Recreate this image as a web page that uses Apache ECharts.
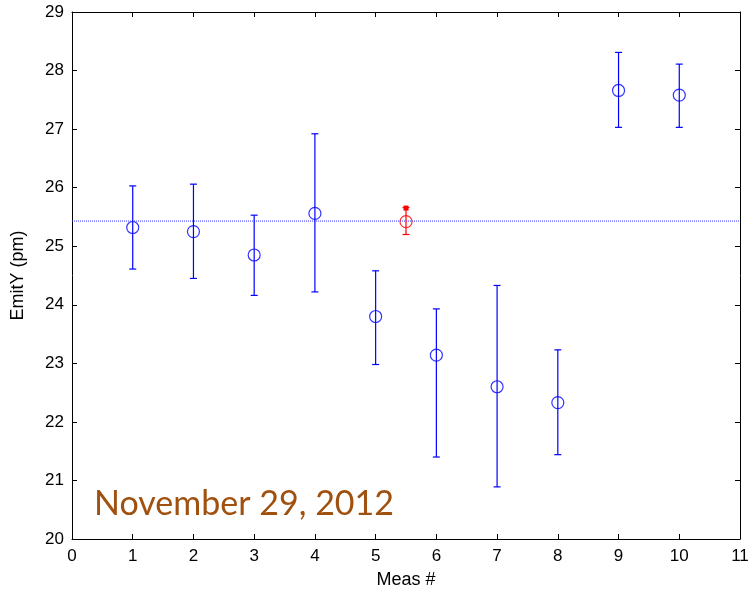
<!DOCTYPE html>
<html><head><meta charset="utf-8">
<script src="https://cdn.jsdelivr.net/npm/echarts@6/dist/echarts.min.js"></script>
<style>html,body{margin:0;padding:0;background:#fff}#c{width:752px;height:594px}</style>
</head><body><div id="c"></div>
<script>
const measX = [1, 2, 3, 4, 5, 6, 7, 8, 9, 10];
const emitY = [25.32, 25.25, 24.85, 25.56, 23.80, 23.14, 22.60, 22.33, 27.66, 27.58];
const errUpper = [26.03, 26.06, 25.53, 26.92, 24.58, 23.93, 24.33, 23.23, 28.31, 28.11];
const errLower = [24.61, 24.45, 24.16, 24.22, 22.98, 21.40, 20.89, 21.44, 27.03, 27.03];
const avgX = [5.5];
const avgY = [25.42];
const avgUpper = [25.66];
const avgLower = [25.20];
const refLineY = 25.43;
const xTicks = [0,1,2,3,4,5,6,7,8,9,10,11];
const yTicks = [20,21,22,23,24,25,26,27,28,29];
const dateLabel = 'November 29, 2012';

const chart = echarts.init(document.getElementById('c'), null, {renderer: 'canvas'});
const BLUE = '#0000ff', RED = '#ff0000';
const lblFont = {color: '#000', fontFamily: 'Liberation Sans, Arial', fontSize: 17};

function errBarSeries(xs, lo, hi, color, topSquare) {
  return {
    type: 'custom', xAxisIndex: 0, yAxisIndex: 0, z: 3,
    data: xs.map((x, i) => [x, lo[i], hi[i]]),
    renderItem: function (params, api) {
      const x = api.value(0);
      const p1 = api.coord([x, api.value(1)]);
      const p2 = api.coord([x, api.value(2)]);
      const w = 3.5;
      const st = {stroke: color, lineWidth: 1.2, fill: null};
      const children = [
        {type: 'line', shape: {x1: p1[0], y1: p1[1], x2: p2[0], y2: p2[1]}, style: st},
        {type: 'line', shape: {x1: p1[0] - w, y1: p1[1], x2: p1[0] + w, y2: p1[1]}, style: st},
        {type: 'line', shape: {x1: p2[0] - w, y1: p2[1], x2: p2[0] + w, y2: p2[1]}, style: st}
      ];
      if (topSquare) {
        children.push({type: 'rect', shape: {x: p2[0] - 2.5, y: p2[1] - 2, width: 5, height: 5}, style: {fill: color}});
      }
      return {type: 'group', children: children};
    }
  };
}

const option = {
  animation: false,
  backgroundColor: '#fff',
  grid: {left: 72, right: 12, top: 12, bottom: 54, show: false},
  xAxis: [{
    type: 'value', min: 0, max: 11, interval: 1, position: 'bottom',
    name: 'Meas #', nameLocation: 'middle', nameGap: 32,
    nameTextStyle: {color: '#000', fontFamily: 'Liberation Sans, Arial', fontSize: 18},
    axisLine: {show: true, onZero: false, lineStyle: {color: '#000', width: 1}},
    axisTick: {show: true, inside: true, length: 5, lineStyle: {color: '#000'}},
    axisLabel: Object.assign({margin: 9}, lblFont),
    splitLine: {show: false}
  }, {
    type: 'value', min: 0, max: 11, interval: 1, position: 'top',
    axisLine: {show: true, onZero: false, lineStyle: {color: '#000', width: 1}},
    axisTick: {show: true, inside: true, length: 5, lineStyle: {color: '#000'}},
    axisLabel: {show: false}, splitLine: {show: false}
  }],
  yAxis: [{
    type: 'value', min: 20, max: 29, interval: 1, position: 'left',
    name: 'EmitY (pm)', nameLocation: 'middle', nameGap: 45,
    nameTextStyle: {color: '#000', fontFamily: 'Liberation Sans, Arial', fontSize: 18},
    axisLine: {show: true, onZero: false, lineStyle: {color: '#000', width: 1}},
    axisTick: {show: true, inside: true, length: 5, lineStyle: {color: '#000'}},
    axisLabel: Object.assign({margin: 8}, lblFont),
    splitLine: {show: false}
  }, {
    type: 'value', min: 20, max: 29, interval: 1, position: 'right',
    axisLine: {show: true, onZero: false, lineStyle: {color: '#000', width: 1}},
    axisTick: {show: true, inside: true, length: 5, lineStyle: {color: '#000'}},
    axisLabel: {show: false}, splitLine: {show: false}
  }],
  series: [
    {
      type: 'line', xAxisIndex: 0, yAxisIndex: 0, z: 2,
      data: [[xTicks[0], refLineY], [xTicks[xTicks.length - 1], refLineY]],
      symbol: 'none', silent: true,
      lineStyle: {color: '#3030ff', width: 1, type: [1, 1]}
    },
    errBarSeries(measX, errLower, errUpper, BLUE, false),
    errBarSeries(avgX, avgLower, avgUpper, RED, true),
    {
      type: 'scatter', xAxisIndex: 0, yAxisIndex: 0, z: 4,
      data: measX.map((x, i) => [x, emitY[i]]),
      symbol: 'circle', symbolSize: 12,
      itemStyle: {color: 'rgba(0,0,0,0)', borderColor: BLUE, borderWidth: 1.2}
    },
    {
      type: 'scatter', xAxisIndex: 0, yAxisIndex: 0, z: 4,
      data: avgX.map((x, i) => [x, avgY[i]]),
      symbol: 'circle', symbolSize: 12,
      itemStyle: {color: 'rgba(0,0,0,0)', borderColor: RED, borderWidth: 1.2}
    }
  ],
  graphic: [{
    type: 'text', left: 94, top: 487, z: 10,
    style: {text: dateLabel, fill: '#a0500f', font: '34px Lato, "Open Sans", sans-serif'}
  }]
};
chart.setOption(option);
</script></body></html>
